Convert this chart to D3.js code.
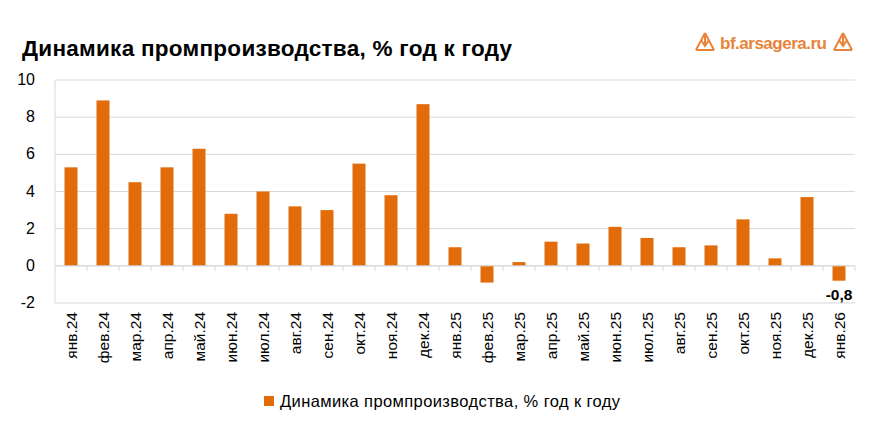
<!DOCTYPE html><html><head><meta charset="utf-8"><script src="https://cdn.jsdelivr.net/npm/d3@7"></script>
<style>body{margin:0;background:#fff;font-family:"Liberation Sans",Arial,sans-serif}</style></head><body><svg id="c" width="871" height="426"></svg>
<script>
const categories=["янв.24","фев.24","мар.24","апр.24","май.24","июн.24","июл.24","авг.24","сен.24","окт.24","ноя.24","дек.24","янв.25","фев.25","мар.25","апр.25","май.25","июн.25","июл.25","авг.25","сен.25","окт.25","ноя.25","дек.25","янв.26"];
const values=[5.3,8.9,4.5,5.3,6.3,2.8,4.0,3.2,3.0,5.5,3.8,8.7,1.0,-0.9,0.2,1.3,1.2,2.1,1.5,1.0,1.1,2.5,0.4,3.7,-0.8];
const yTicks=[-2,0,2,4,6,8,10];
const color="#E36C0A";
const svg=d3.select("#c");
const L=55,R=855,T=80,B=303;
const y=d3.scaleLinear().domain([-2,10]).range([B,T]);
svg.append("text").attr("x",22).attr("y",56).attr("font-size",22.5).attr("font-weight","bold").attr("fill","#000").attr("textLength",490).text("Динамика промпроизводства, % год к году");
const g=svg.append("g");
yTicks.forEach(t=>{g.append("line").attr("x1",L).attr("x2",R).attr("y1",y(t)).attr("y2",y(t)).attr("stroke","#d9d9d9");
g.append("text").attr("x",L-20).attr("y",y(t)+5).attr("text-anchor","end").attr("font-size",16).attr("fill","#000").text(t);});
g.append("line").attr("x1",L).attr("x2",L).attr("y1",T).attr("y2",B).attr("stroke","#d9d9d9");
const band=(R-L)/categories.length;
categories.forEach((c,i)=>{const cx=L+band*(i+0.5);
g.append("rect").attr("x",cx-6.5).attr("width",13).attr("y",y(Math.max(0,values[i]))).attr("height",Math.abs(y(values[i])-y(0))).attr("fill",color);
g.append("line").attr("x1",L+band*(i+1)).attr("x2",L+band*(i+1)).attr("y1",y(0)).attr("y2",y(0)+5).attr("stroke","#d9d9d9");
g.append("text").attr("transform",`translate(${cx+5.5},312) rotate(-90)`).attr("text-anchor","end").attr("font-size",15.5).attr("fill","#000").text(c);});
g.append("line").attr("x1",L).attr("x2",R).attr("y1",y(0)).attr("y2",y(0)).attr("stroke","#d9d9d9");
const li=values.length-1;
g.append("text").attr("x",L+band*(li+0.5)).attr("y",y(values[li])+19).attr("text-anchor","middle").attr("font-size",15.5).attr("font-weight","bold").text("-0,8");
svg.append("rect").attr("x",264).attr("y",396).attr("width",10).attr("height",10).attr("fill",color);
svg.append("text").attr("x",280).attr("y",407).attr("font-size",16.5).attr("fill","#000").attr("textLength",340).text("Динамика промпроизводства, % год к году");
svg.append("text").attr("x",720).attr("y",49).attr("font-size",17).attr("font-weight","bold").attr("fill","#E8843A").attr("textLength",107).text("bf.arsagera.ru");
function logo(cx){const lg=svg.append("g").attr("transform",`translate(${cx},42)`).attr("stroke","#E8843A").attr("stroke-width",2).attr("fill","none");
lg.append("path").attr("d","M0,-9 L-9,8 M0,-9 L9,8 M-9,8 L9,8 M0,-9 L0,4 M-4,-2 L0,4 L4,-2");}
logo(705);logo(843);
</script></body></html>
